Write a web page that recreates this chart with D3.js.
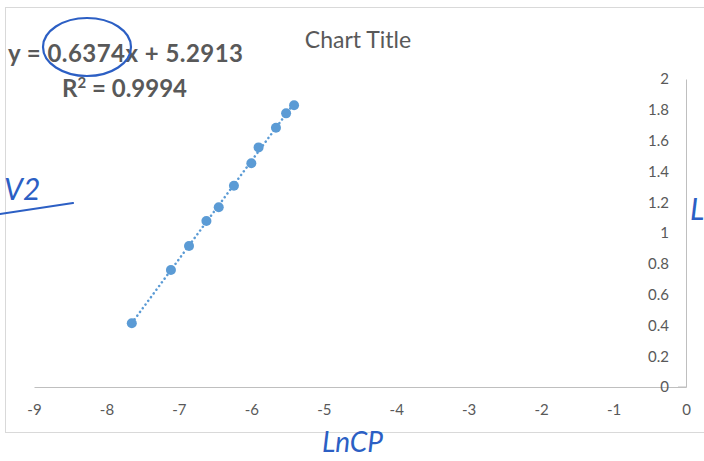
<!DOCTYPE html>
<html>
<head>
	<title>Chart Title</title>
	<meta charset='utf-8'>
	<style>
		body { margin: 0; background: #fff; }
		.chart text { font-family: Lato, 'Open Sans', sans-serif; fill: #595959; }
		.axis path.domain { stroke: #bfbfbf; }
		.axis line { stroke: #bfbfbf; }
		.axis text { font-size: 15px; }
		.trend { fill: none; stroke: #5b9bd5; stroke-width: 2.5px; stroke-dasharray: 0.1 4.5; stroke-linecap: round; }
		.dot { fill: #5b9bd5; }
		.ink { fill: none; stroke: #2c5fc4; stroke-width: 2.2px; stroke-linecap: round; }
	</style>
</head>
<body>

<script src='https://d3js.org/d3.v7.min.js'></script>
<script>
	'use strict';

	// данные
	const lnCp = [-7.65, -7.11, -6.86, -6.62, -6.45, -6.24, -6.0, -5.9, -5.66, -5.52, -5.41];
	const v2 = [0.414, 0.76, 0.916, 1.078, 1.167, 1.307, 1.453, 1.556, 1.684, 1.777, 1.829];
	const xTicks = [-9, -8, -7, -6, -5, -4, -3, -2, -1, 0];
	const yTicks = [0, 0.2, 0.4, 0.6, 0.8, 1, 1.2, 1.4, 1.6, 1.8, 2];
	const slope = 0.6374;
	const intercept = 5.2913;
	const r2 = 0.9994;

	const data = lnCp.map(function(x, i) { return {x: x, y: v2[i]}; });

	const W = 704, H = 461;

	const xScale = d3.scaleLinear().domain([-9, 0]).range([34, 686]);
	const yScale = d3.scaleLinear().domain([0, 2]).range([387, 79]);

	const svg = d3.select('body').append('svg')
		.attr('class', 'chart')
		.attr('width', W)
		.attr('height', H);

	// рамка диаграммы
	svg.append('rect')
		.attr('x', 5.5).attr('y', 7.5)
		.attr('width', 720).attr('height', 425)
		.attr('fill', '#fff')
		.attr('stroke', '#d9d9d9');

	// ось X
	svg.append('g')
		.attr('class', 'axis axis__x')
		.attr('transform', 'translate(0,' + yScale(0) + ')')
		.call(d3.axisBottom(xScale).tickValues(xTicks).tickSize(0).tickPadding(17)
			.tickFormat(function(d) { return d < 0 ? '-' + Math.abs(d) : d; }));

	// ось Y (справа, подписи слева от неё)
	svg.append('g')
		.attr('class', 'axis axis__y')
		.attr('transform', 'translate(' + xScale(0) + ',0)')
		.call(d3.axisLeft(yScale).tickValues(yTicks).tickSizeInner(0).tickSizeOuter(0).tickPadding(17)
			.tickFormat(d3.format('~g')));

	// маленький тик у нуля
	svg.select('.axis__y').append('line')
		.attr('x1', -8).attr('x2', 0)
		.attr('y1', yScale(0)).attr('y2', yScale(0));

	// линия тренда
	const xr = d3.extent(lnCp);
	svg.append('path')
		.datum(xr.map(function(x) { return {x: x, y: slope * x + intercept}; }))
		.attr('class', 'trend')
		.attr('d', d3.line().x(function(d) { return xScale(d.x); }).y(function(d) { return yScale(d.y); }));

	svg.selectAll('.dot')
		.data(data)
		.enter().append('circle')
		.attr('class', 'dot')
		.attr('r', 5)
		.attr('cx', function(d) { return xScale(d.x); })
		.attr('cy', function(d) { return yScale(d.y); });

	// заголовок
	svg.append('text')
		.attr('x', 358).attr('y', 48)
		.attr('text-anchor', 'middle')
		.style('font-size', '23px')
		.text('Chart Title');

	// подпись уравнения
	const eq = svg.append('text')
		.style('font-size', '24px')
		.style('font-weight', 'bold');
	eq.append('tspan').attr('x', 8).attr('y', 62)
		.attr('textLength', 235).attr('lengthAdjust', 'spacing')
		.text('y = ' + slope + 'x + ' + intercept);
	const r2Line = eq.append('tspan').attr('x', 62).attr('y', 97).text('R');
	r2Line.append('tspan').attr('dy', -9).style('font-size', '15px').text('2');
	r2Line.append('tspan').attr('dy', 9).text(' = ' + r2);

	// рукописные пометки
	svg.append('ellipse')
		.attr('class', 'ink')
		.attr('cx', 87).attr('cy', 47).attr('rx', 44).attr('ry', 29);
	svg.append('text')
		.attr('x', 4).attr('y', 200)
		.style('font-size', '30px').style('fill', '#2c5fc4').style('font-style', 'italic')
		.text('V2');
	svg.append('line').attr('class', 'ink')
		.attr('x1', 0).attr('y1', 214).attr('x2', 73).attr('y2', 203);
	svg.append('text')
		.attr('x', 322).attr('y', 452)
		.style('font-size', '28px').style('fill', '#2c5fc4').style('font-style', 'italic')
		.text('LnCP');
	svg.append('text')
		.attr('x', 690).attr('y', 220)
		.style('font-size', '30px').style('fill', '#2c5fc4').style('font-style', 'italic')
		.text('L');
</script>
</body>
</html>
